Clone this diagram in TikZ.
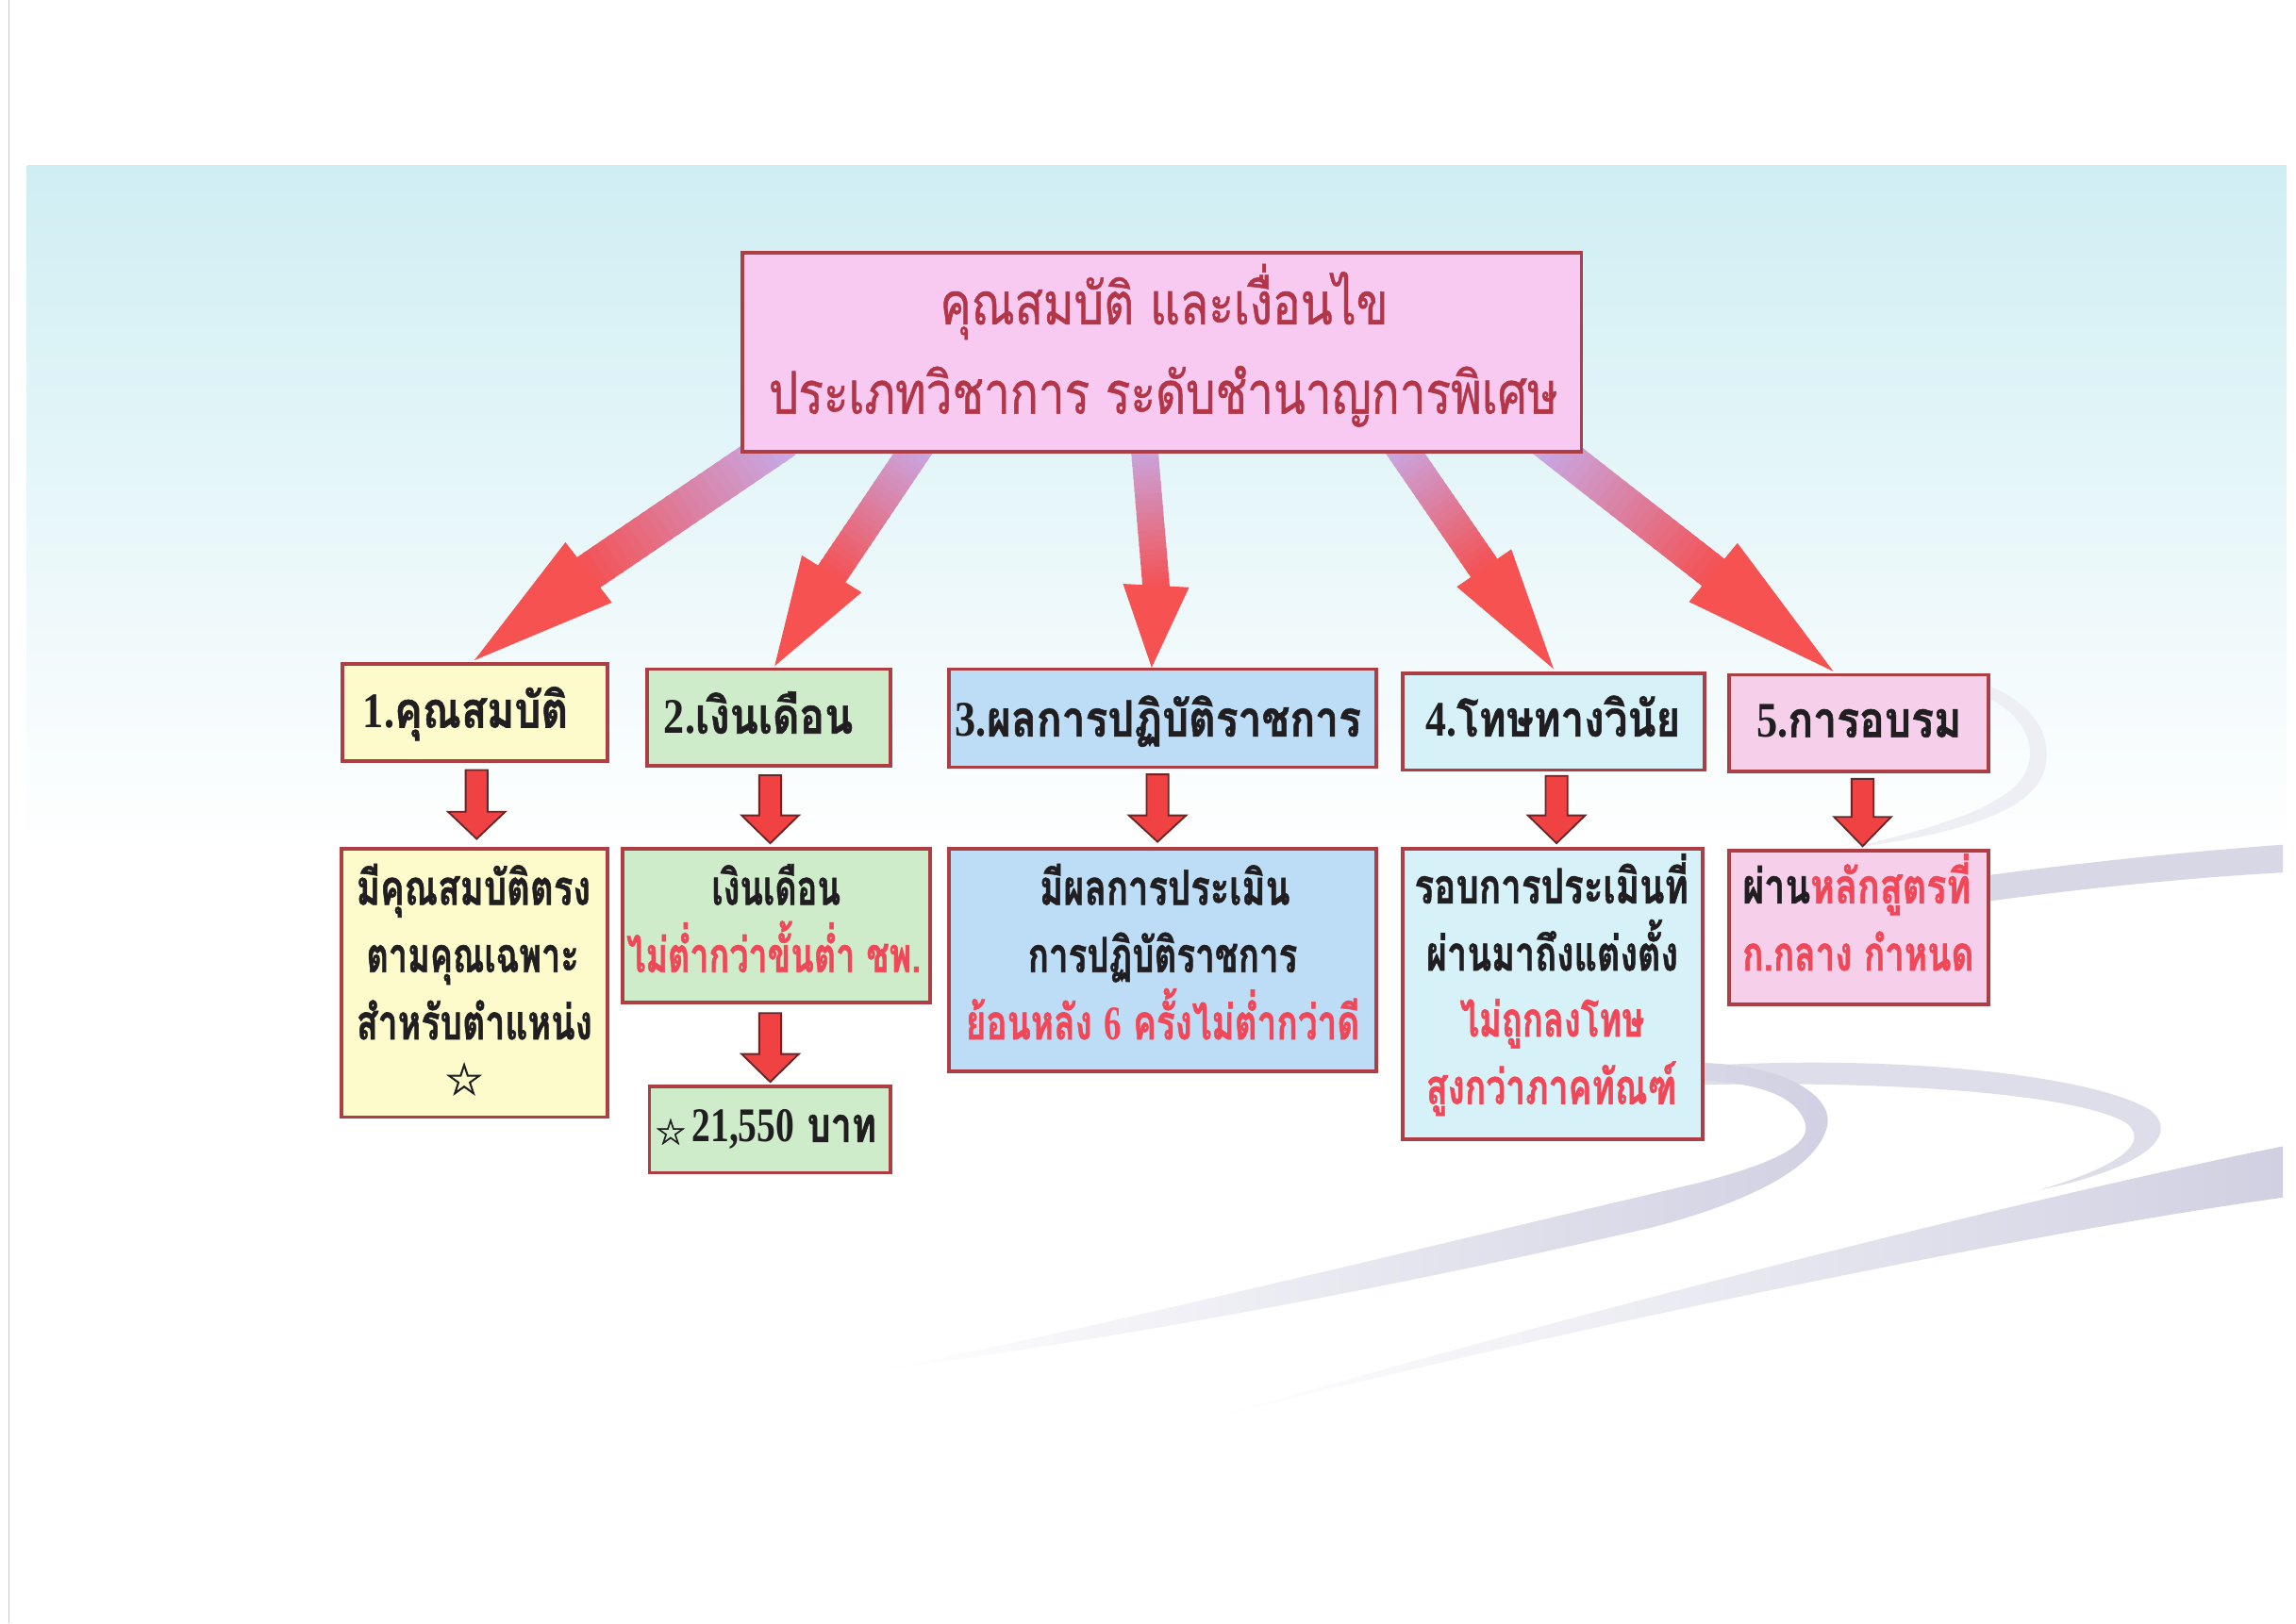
\documentclass[tikz,border=0pt]{standalone}
\usepackage{fontspec}
\usepackage{graphicx}
\usetikzlibrary{calc,fit}
\newfontfamily\thai[Script=Thai,BoldFeatures={FakeBold=1.2}]{Loma}
\newfontfamily\thaititle[Script=Thai,FakeBold=0.9]{Loma}
\newfontfamily\lser{Liberation Serif}
\newfontfamily\symf[FakeBold=1.5]{DejaVu Sans}
\definecolor{bgblue}{RGB}{207,238,243}
\definecolor{swoosh}{RGB}{208,208,226}
\definecolor{bordercol}{RGB}{172,62,68}
\definecolor{titlefill}{RGB}{248,202,241}
\definecolor{titletext}{RGB}{178,54,72}
\definecolor{yelfill}{RGB}{253,251,203}
\definecolor{grnfill}{RGB}{206,236,201}
\definecolor{bluefill}{RGB}{189,220,246}
\definecolor{cyanfill}{RGB}{214,241,247}
\definecolor{pinkfill}{RGB}{246,208,234}
\definecolor{txtblack}{RGB}{32,30,32}
\definecolor{txtred}{RGB}{240,72,88}
\definecolor{lavarrow}{RGB}{198,170,232}
\definecolor{redarrow}{RGB}{242,84,88}
\definecolor{headred}{RGB}{246,82,82}
\definecolor{smallfill}{RGB}{240,66,66}
\definecolor{smalldraw}{RGB}{105,38,38}

\newcommand\fitw[2]{\resizebox{#1}{\height}{#2}}

\newcommand\bigarrow[6]{%
  \coordinate (#1S) at #2;
  \coordinate (#1B) at #3;
  \coordinate (#1T) at #4;
  \coordinate (#1Sl) at ($(#1S)!#5!90:(#1B)$);
  \coordinate (#1Sr) at ($(#1S)!#5!-90:(#1B)$);
  \coordinate (#1Bl) at ($(#1B)!#5!-90:(#1S)$);
  \coordinate (#1Br) at ($(#1B)!#5!90:(#1S)$);
  \foreach \i in {0,...,23}{%
    \pgfmathsetmacro\ta{\i/24}%
    \pgfmathsetmacro\tb{(\i+1.4)/24}%
    \pgfmathtruncatemacro\pc{100-\i*100/23}%
    \fill[lavarrow!\pc!redarrow] ($(#1Sl)!\ta!(#1Bl)$) -- ($(#1Sl)!\tb!(#1Bl)$) -- ($(#1Sr)!\tb!(#1Br)$) -- ($(#1Sr)!\ta!(#1Br)$) -- cycle;
  }%
  \fill[headred] ($(#1B)!#6!90:(#1T)$) -- (#1T) -- ($(#1B)!#6!-90:(#1T)$) -- cycle;
}

\newcommand\smallarr[4]{%
  \draw[smallarrow] (#1-7.5,#2) -- (#1+7.5,#2) -- (#1+7.5,#3) -- (#1+19.5,#3) -- (#1,#4) -- (#1-19.5,#3) -- (#1-7.5,#3) -- cycle;
}

\begin{document}
\begin{tikzpicture}[x=0.5pt,y=-0.5pt,
  box/.style={draw=bordercol,line width=1.2pt,inner sep=0pt,outer sep=0pt},
  txt/.style={anchor=base,inner sep=0pt,outer sep=0pt},
  titletxt/.style={txt,text=titletext,font=\thaititle\fontsize{20}{23}\selectfont},
  headtxt/.style={txt,text=txtblack,font=\thai\bfseries\fontsize{17}{20}\selectfont},
  bodytxt/.style={txt,text=txtblack,font=\thai\bfseries\fontsize{16.5}{19}\selectfont},
  redtxt/.style={bodytxt,text=txtred},
  smallarrow/.style={fill=smallfill,draw=smalldraw,line width=0.6pt,line join=miter},
]
\useasboundingbox (0,0) rectangle (1568,1108.7);
\fill[white] (0,0) rectangle (1568,1108.7);
% background band
\shade[top color=bgblue,bottom color=white] (18.5,113) rectangle (1561.5,580);
\draw[black!22,line width=0.4pt] (6,0) -- (6,1108.7);

% decorative swooshes
\fill[swoosh!85] (1559,577) .. controls (1450,585) and (1300,602) .. (1181,628) -- (1181,646) .. controls (1300,620) and (1450,602) .. (1559,596) -- cycle;
\fill[swoosh!35] (1330,462) .. controls (1385,468) and (1410,505) .. (1392,535) .. controls (1375,560) and (1320,572) .. (1260,580) .. controls (1320,566) and (1368,552) .. (1382,530) .. controls (1396,505) and (1375,475) .. (1330,469) -- cycle;
\fill[swoosh!70] (1163,728) .. controls (1300,720) and (1430,735) .. (1468,758) .. controls (1490,775) and (1465,798) .. (1392,813) .. controls (1450,796) and (1468,780) .. (1452,767) .. controls (1420,748) and (1300,738) .. (1163,741) -- cycle;
\shade[left color=white,right color=swoosh] (1163,726) .. controls (1225,728) and (1255,752) .. (1247,772) .. controls (1238,800) and (1190,822) .. (1130,838) .. controls (950,880) and (760,915) .. (600,936) .. controls (760,905) and (980,850) .. (1160,808) .. controls (1210,795) and (1240,782) .. (1232,765) .. controls (1225,748) and (1200,740) .. (1163,738) -- cycle;
\shade[left color=white,right color=swoosh] (1559,783) .. controls (1400,815) and (1100,890) .. (830,968) .. controls (1100,900) and (1400,840) .. (1559,818) -- cycle;

% big arrows from the title
\bigarrow{ba}{(536,300)}{(402,391)}{(324,451)}{6.5pt}{13pt}
\bigarrow{bb}{(630,300)}{(568,392)}{(529,455)}{5.5pt}{12pt}
\bigarrow{bc}{(781,300)}{(789.5,400)}{(786.5,456)}{4.6pt}{11.3pt}
\bigarrow{bd}{(953,300)}{(1013.5,388)}{(1061,457)}{5.5pt}{11.3pt}
\bigarrow{be}{(1053.6,300)}{(1170,391)}{(1252,458.6)}{6pt}{13pt}

% title
\node[box,fill=titlefill,fit={(507,172.5) (1080,308.5)}] (title) {};
\node[titletxt] (title1) at (795,221.5) {\fitw{153pt}{คุณสมบัติ และเงื่อนไข}};
\node[titletxt] (title2) at (794.5,282.5) {\fitw{269.5pt}{ประเภทวิชาการ ระดับชำนาญการพิเศษ}};

% headers
\node[box,fill=yelfill,fit={(234,453.5) (415,520)}] (h1) {};
\node[box,fill=grnfill,fit={(442,457) (608,523)}] (h2) {};
\node[box,fill=bluefill,fit={(648,457) (940,524)}] (h3) {};
\node[box,fill=cyanfill,fit={(958,460) (1164,526)}] (h4) {};
\node[box,fill=pinkfill,fit={(1181,461) (1358,527)}] (h5) {};
\node[headtxt] (h1t) at (318,497) {\fitw{70pt}{{\lser 1.}คุณสมบัติ}};
\node[headtxt] (h2t) at (518,501) {\fitw{64.5pt}{{\lser 2.}เงินเดือน}};
\node[headtxt] (h3t) at (791,503) {\fitw{138.5pt}{{\lser 3.}ผลการปฏิบัติราชการ}};
\node[headtxt] (h4t) at (1060.5,503) {\fitw{87pt}{{\lser 4.}โทษทางวินัย}};
\node[headtxt] (h5t) at (1269.5,503.5) {\fitw{70pt}{{\lser 5.}การอบรม}};

% small arrows
\smallarr{325.5}{526}{554.5}{573}
\smallarr{526}{529.5}{557}{576}
\smallarr{790.5}{529}{557}{575}
\smallarr{1063}{530}{557}{576}
\smallarr{1272}{532}{558}{578}
\smallarr{526}{692}{720}{739}

% body boxes
\node[box,fill=yelfill,fit={(233,580) (415,763)}] (b1) {};
\node[box,fill=grnfill,fit={(425,580) (635,685)}] (b2) {};
\node[box,fill=grnfill,fit={(443.5,742) (608,801)}] (b2b) {};
\node[box,fill=bluefill,fit={(648,580) (940,732)}] (b3) {};
\node[box,fill=cyanfill,fit={(958,580) (1163,778)}] (b4) {};
\node[box,fill=pinkfill,fit={(1181,581) (1358,686)}] (b5) {};

% body texts
\node[bodytxt] (b1a) at (323.4,618) {\fitw{80pt}{มีคุณสมบัติตรง}};
\node[bodytxt] (b1b) at (322.8,664) {\fitw{72.5pt}{ตามคุณเฉพาะ}};
\node[bodytxt] (b1c) at (324,710) {\fitw{80.5pt}{สำหรับตำแหน่ง}};
\node[text=txtblack,font=\symf\fontsize{15}{15}\selectfont,inner sep=0pt] (b1d) at (317,737) {☆};

\node[bodytxt] (b2a) at (530,618) {\fitw{44pt}{เงินเดือน}};
\node[redtxt] (b2c) at (528.5,664) {\fitw{100.5pt}{ไม่ต่ำกว่าขั้นต่ำ ชพ.}};
\node[text=txtblack,font=\symf\fontsize{12}{12}\selectfont,inner sep=0pt] (b2s) at (458,773) {☆};
\node[bodytxt] (b2d) at (535.5,780) {\fitw{63pt}{{\lser 21,550} บาท}};

\node[bodytxt] (b3a) at (795.5,618) {\fitw{85.5pt}{มีผลการประเมิน}};
\node[bodytxt] (b3b) at (794,664) {\fitw{92pt}{การปฏิบัติราชการ}};
\node[redtxt] (b3c) at (794,710) {\fitw{134.5pt}{ย้อนหลัง {\lser 6} ครั้งไม่ต่ำกว่าดี}};

\node[bodytxt] (b4a) at (1059.5,617) {\fitw{93.5pt}{รอบการประเมินที่}};
\node[bodytxt] (b4b) at (1060,663) {\fitw{86pt}{ผ่านมาถึงแต่งตั้ง}};
\node[redtxt] (b4c) at (1060,708) {\fitw{63pt}{ไม่ถูกลงโทษ}};
\node[redtxt] (b4d) at (1059.5,754) {\fitw{85.5pt}{สูงกว่าภาคทัณฑ์}};

\node[bodytxt] (b5a) at (1268,617) {\fitw{78pt}{ผ่าน\textcolor{txtred}{หลักสูตรที่}}};
\node[redtxt] (b5b) at (1269,663) {\fitw{79pt}{ก.กลาง กำหนด}};
\end{tikzpicture}
\end{document}
